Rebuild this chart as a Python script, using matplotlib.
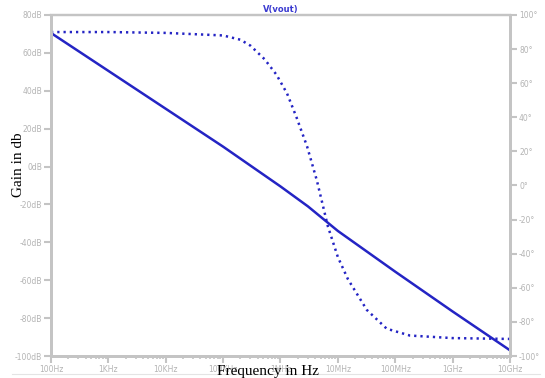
import numpy as np
import matplotlib
matplotlib.use('Agg')
import matplotlib.pyplot as plt
from matplotlib.ticker import FixedLocator, LogLocator, NullFormatter

# gain curve
freq_gain = [1e2, 1e3, 1e4, 1e5, 1e6, 3e6, 1e7, 1e8, 1e9, 1e10]
gain_db = [70.5, 50.5, 30.5, 10.5, -10.5, -21, -34, -55.5, -76.5, -97]

# phase curve (dotted)
freq_phase = [1e2, 1e3, 1e4, 1e5, 2e5, 3e5, 5.3e5, 8.5e5, 1.3e6, 1.9e6, 2.9e6,
              4.3e6, 6.7e6, 1e7, 1.5e7, 3.2e7, 7.1e7, 1.8e8, 1e9, 1e10]
phase_deg = [90, 90, 89.5, 88, 85.5, 82, 74, 65, 54, 40, 23,
             3, -24, -42, -55, -73, -84, -88, -89.5, -90]

xticks = [1e2, 1e3, 1e4, 1e5, 1e6, 1e7, 1e8, 1e9, 1e10]
xlabels = ['100Hz', '1KHz', '10KHz', '100KHz', '1MHz', '10MHz', '100MHz', '1GHz', '10GHz']
yticks = [80, 60, 40, 20, 0, -20, -40, -60, -80, -100]
ylabels = [f'{v}dB' for v in yticks]
y2ticks = [100, 80, 60, 40, 20, 0, -20, -40, -60, -80, -100]
y2labels = [f'{v}°' for v in y2ticks]

blue = '#2424c4'
gray = '#c4c4c4'
lblgray = '#b4b4b4'

fig = plt.figure(figsize=(5.45, 3.78), dpi=100)
ax = fig.add_axes([51/545, 1-356/378, 459/545, 341/378])
ax2 = ax.twinx()

ax.plot(freq_gain, gain_db, color=blue, lw=1.8, solid_capstyle='round')
ax2.plot(freq_phase, phase_deg, color=blue, lw=1.8, linestyle=(0, (0.9, 1.6)))

ax.set_xscale('log')
ax.set_xlim(1e2, 1e10)
ax.set_ylim(-100, 80)
ax2.set_ylim(-100, 100)

ax.xaxis.set_major_locator(FixedLocator(xticks))
ax.set_xticklabels(xlabels)
ax.xaxis.set_minor_locator(LogLocator(base=10, subs=np.arange(2, 10)))
ax.xaxis.set_minor_formatter(NullFormatter())
ax.set_yticks(yticks)
ax.set_yticklabels(ylabels)
ax2.set_yticks(y2ticks)
ax2.set_yticklabels(y2labels)

for a in (ax, ax2):
    for s in a.spines.values():
        s.set_color(gray)
        s.set_linewidth(2)
    a.spines['top'].set_linewidth(1.6)
    a.tick_params(axis='both', which='major', colors=gray, labelcolor=lblgray,
                  labelsize=5.5, length=5, width=1.5, pad=1.5)
    a.tick_params(axis='x', which='minor', colors=gray, length=2.5, width=1.2)

ax.set_title('V(vout)', color='#3a3ad0', fontsize=6, fontweight='bold', pad=2)

# axis labels sit over the tick labels, as in the original
fig.text(268/545, 1-371/378, 'Frequency in Hz', family='Liberation Serif',
         fontsize=11, ha='center', va='center', color='black')
fig.text(18/545, 1-165/378, 'Gain in db', family='Liberation Serif',
         fontsize=11, ha='center', va='center', rotation=90, color='black')

fig.add_artist(plt.Line2D([12/545, 540/545], [1-374/378, 1-374/378],
                          transform=fig.transFigure, color='#e4e4e4', lw=0.8))

fig.savefig('out.png', dpi=100)
